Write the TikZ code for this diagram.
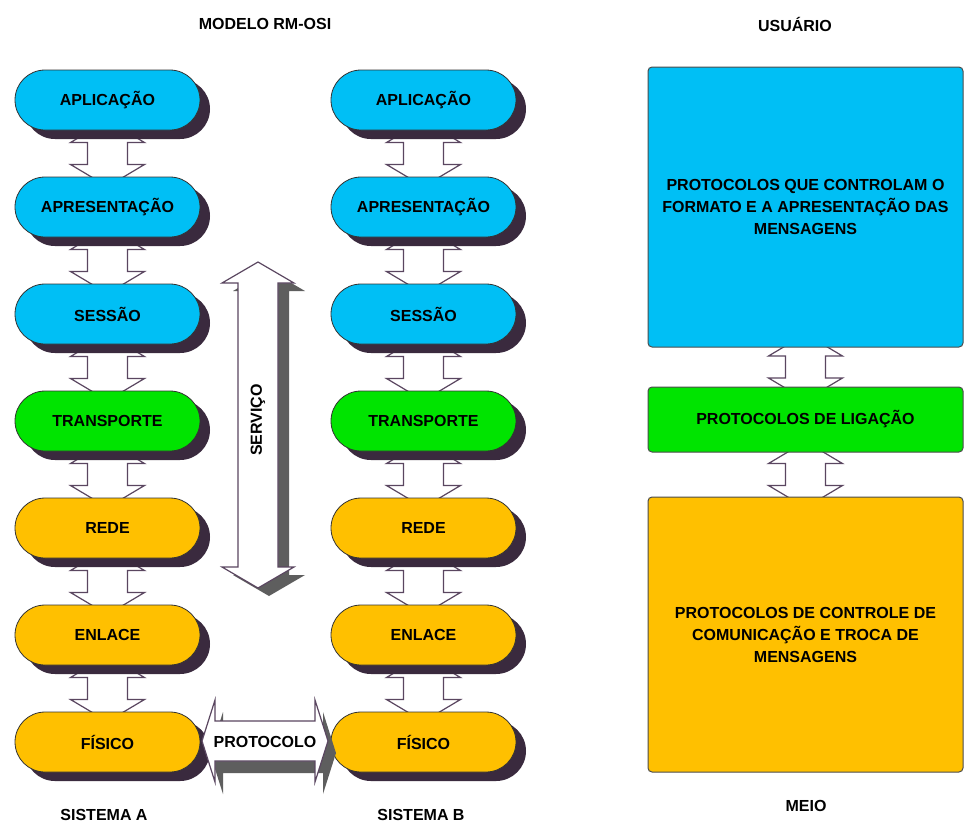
\documentclass[tikz,border=0pt]{standalone}
\usepackage{fontspec}
\setmainfont{Liberation Sans}
\usetikzlibrary{calc,shadows}
\definecolor{cblue}{HTML}{00BFF5}
\definecolor{cgreen}{HTML}{00E400}
\definecolor{corange}{HTML}{FFC000}
\definecolor{cshadow}{HTML}{3A2A3E}
\definecolor{cgrey}{HTML}{5E5E5E}
\definecolor{cline}{HTML}{5A4660}
\pgfdeclarelayer{back}
\pgfdeclarelayer{bg}
\pgfsetlayers{back,bg,main}
\tikzset{
  lbl/.style={font=\bfseries\fontsize{8}{11}\selectfont, inner sep=0pt},
  layer/.style={lbl, rounded corners=15pt, minimum width=92.5pt, minimum height=30pt,
    draw=black!80, line width=0.4pt,
    drop shadow={shadow xshift=5pt, shadow yshift=-4.5pt, fill=cshadow, opacity=1}},
  ubox/.style={lbl, align=center, rounded corners=2pt, minimum width=157.5pt,
    draw=black!70, line width=0.5pt},
  linkarrow/.style={fill=white, draw=cline, line width=0.6pt, line join=miter},
  bigarrow/.style={fill=white, draw=cline, line width=0.6pt},
  bigshadow/.style={fill=cgrey},
}
\newcommand{\vlink}[2]{%
  \begin{pgfonlayer}{bg}
  \coordinate (vm) at ($(#1.south)!0.5!(#2.north)$);
  \draw[linkarrow] ([shift={(0pt,16.5pt)}]vm) -- ([shift={(18.5pt,5.5pt)}]vm)
    -- ([shift={(10pt,5.5pt)}]vm) -- ([shift={(10pt,-5.5pt)}]vm)
    -- ([shift={(18.5pt,-5.5pt)}]vm) -- ([shift={(0pt,-16.5pt)}]vm)
    -- ([shift={(-18.5pt,-5.5pt)}]vm) -- ([shift={(-10pt,-5.5pt)}]vm)
    -- ([shift={(-10pt,5.5pt)}]vm) -- ([shift={(-18.5pt,5.5pt)}]vm) -- cycle;
  \end{pgfonlayer}}
% vertical double arrow around coordinate #2 with style #1
\newcommand{\varrow}[2]{%
  \path[#1] ([shift={(0pt,81.5pt)}]#2) -- ([shift={(18pt,71pt)}]#2) -- ([shift={(10pt,71pt)}]#2)
  -- ([shift={(10pt,-71pt)}]#2) -- ([shift={(18pt,-71pt)}]#2) -- ([shift={(0pt,-81.5pt)}]#2)
  -- ([shift={(-18pt,-71pt)}]#2) -- ([shift={(-10pt,-71pt)}]#2) -- ([shift={(-10pt,71pt)}]#2)
  -- ([shift={(-18pt,71pt)}]#2) -- cycle;}
% horizontal double arrow
\newcommand{\harrow}[2]{%
  \path[#1] ([shift={(-31.5pt,0pt)}]#2) -- ([shift={(-25pt,20.5pt)}]#2) -- ([shift={(-25pt,10pt)}]#2)
  -- ([shift={(25pt,10pt)}]#2) -- ([shift={(25pt,20.5pt)}]#2) -- ([shift={(31.5pt,0pt)}]#2)
  -- ([shift={(25pt,-20.5pt)}]#2) -- ([shift={(25pt,-10pt)}]#2) -- ([shift={(-25pt,-10pt)}]#2)
  -- ([shift={(-25pt,-20.5pt)}]#2) -- cycle;}
\begin{document}
\begin{tikzpicture}[x=0.5pt,y=-0.5pt]
\begin{pgfonlayer}{back}
\fill[white] (0,0) rectangle (966,827);
\end{pgfonlayer}
\useasboundingbox (0,0) rectangle (966,827);

% titles
\node[lbl] (tmodel) at (265,24) {MODELO RM-OSI};
\node[lbl] (tuser) at (795,24) {USUÁRIO};
\node[lbl] (tsa) at (104,815) {SISTEMA A};
\node[lbl] (tsb) at (421,815) {SISTEMA B};
\node[lbl] (tmeio) at (806,806) {MEIO};

% system A
\node[layer, fill=cblue]   (a1) at (107.5,100) {APLICAÇÃO};
\node[layer, fill=cblue]   (a2) at (107.5,207) {APRESENTAÇÃO};
\node[layer, fill=cblue]   (a3) at (107.5,314) {SESSÃO};
\node[layer, fill=cgreen]  (a4) at (107.5,421) {TRANSPORTE};
\node[layer, fill=corange] (a5) at (107.5,528) {REDE};
\node[layer, fill=corange] (a6) at (107.5,635) {ENLACE};
\node[layer, fill=corange] (a7) at (107.5,742) {FÍSICO};

% system B
\node[layer, fill=cblue]   (b1) at (423.5,100) {APLICAÇÃO};
\node[layer, fill=cblue]   (b2) at (423.5,207) {APRESENTAÇÃO};
\node[layer, fill=cblue]   (b3) at (423.5,314) {SESSÃO};
\node[layer, fill=cgreen]  (b4) at (423.5,421) {TRANSPORTE};
\node[layer, fill=corange] (b5) at (423.5,528) {REDE};
\node[layer, fill=corange] (b6) at (423.5,635) {ENLACE};
\node[layer, fill=corange] (b7) at (423.5,742) {FÍSICO};

% right boxes
\node[ubox, fill=cblue, minimum height=140pt] (u1) at (805.5,207)
  {PROTOCOLOS QUE CONTROLAM O\\FORMATO E A APRESENTAÇÃO DAS\\MENSAGENS};
\node[ubox, fill=cgreen, minimum height=32.5pt] (u2) at (805.5,419.5)
  {PROTOCOLOS DE LIGAÇÃO};
\node[ubox, fill=corange, minimum height=137.5pt] (u3) at (805.5,634.5)
  {PROTOCOLOS DE CONTROLE DE\\COMUNICAÇÃO E TROCA DE\\MENSAGENS};

% layer connectors
\vlink{a1}{a2}\vlink{a2}{a3}\vlink{a3}{a4}\vlink{a4}{a5}\vlink{a5}{a6}\vlink{a6}{a7}
\vlink{b1}{b2}\vlink{b2}{b3}\vlink{b3}{b4}\vlink{b4}{b5}\vlink{b5}{b6}\vlink{b6}{b7}
\vlink{u1}{u2}\vlink{u2}{u3}

% SERVICO arrow
\coordinate (srv) at (258,425);
\coordinate (srvs) at ([shift={(5.5pt,-4pt)}]srv);
\varrow{bigshadow}{srvs}
\varrow{bigarrow}{srv}
\node[lbl, rotate=90] (tsrv) at (258,420) {SERVIÇO};

% PROTOCOLO arrow
\coordinate (prt) at (265,741);
\coordinate (prts) at ([shift={(4pt,-6pt)}]prt);
\harrow{bigshadow}{prts}
\harrow{bigarrow}{prt}
\node[lbl] (tprt) at (265,742) {PROTOCOLO};
\end{tikzpicture}
\end{document}
